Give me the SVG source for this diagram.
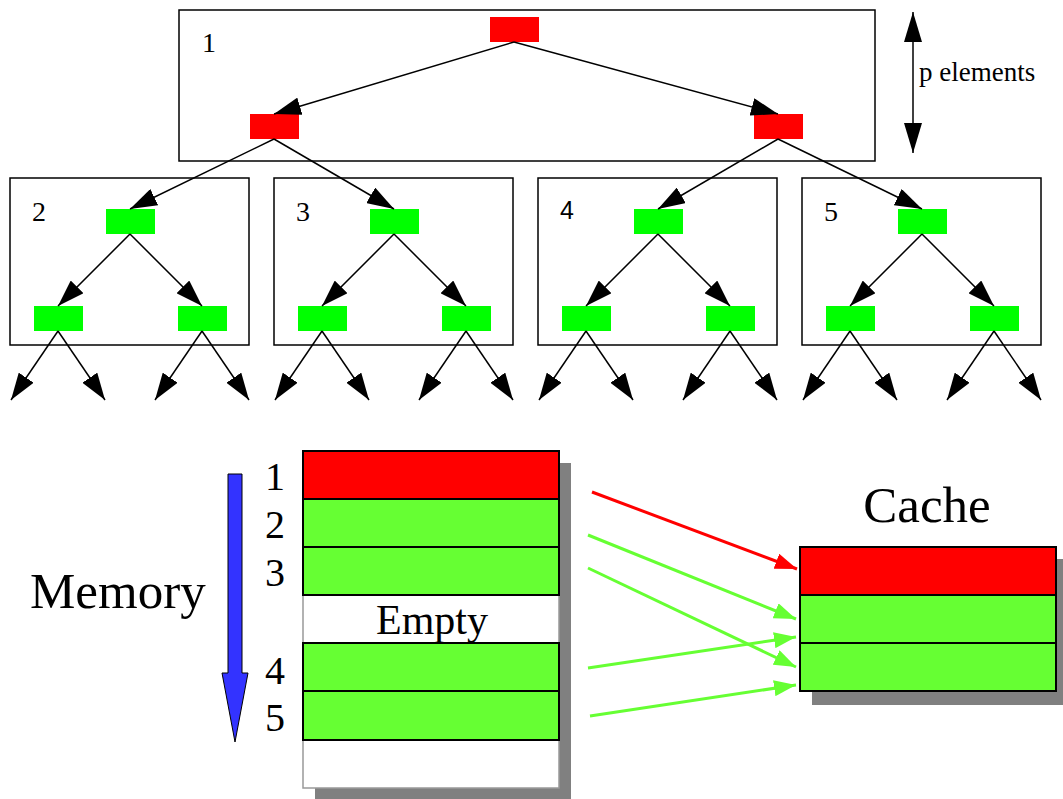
<svg xmlns="http://www.w3.org/2000/svg" width="1063" height="799" viewBox="0 0 1063 799">
<style>
.serif{font-family:"Liberation Serif","Times New Roman",serif;fill:#000}
.sans{font-family:"Liberation Sans",Arial,sans-serif;fill:#000}
.box{fill:none;stroke:#000;stroke-width:1.5}
.red{fill:#ff0000}
.grn{fill:#00ff00}
.edge{stroke:#000;stroke-width:1.5;fill:none;marker-end:url(#ah)}
.row-r{fill:#ff0000;stroke:#000;stroke-width:2}
.row-g{fill:#66ff33;stroke:#000;stroke-width:2}
.row-w{fill:#fff;stroke:#999;stroke-width:1.5}
.shadow{fill:#808080}
.ra{stroke:#ff0000;stroke-width:3;fill:none;marker-end:url(#ahr)}
.ga{stroke:#66ff33;stroke-width:3;fill:none;marker-end:url(#ahg)}
</style>
<defs>
<marker id="ah" markerUnits="userSpaceOnUse" markerWidth="27" markerHeight="18" viewBox="0 0 27 18" refX="27" refY="9" orient="auto"><path d="M0,0 L27,9 L0,18 z" fill="#000"/></marker>
<marker id="ahp" markerUnits="userSpaceOnUse" markerWidth="30" markerHeight="18" viewBox="0 0 30 18" refX="30" refY="9" orient="auto-start-reverse"><path d="M0,0 L30,9 L0,18 z" fill="#000"/></marker>
<marker id="ahr" markerUnits="userSpaceOnUse" markerWidth="22" markerHeight="16" viewBox="0 0 22 16" refX="22" refY="8" orient="auto"><path d="M0,0 L22,8 L0,16 z" fill="#ff0000"/></marker>
<marker id="ahg" markerUnits="userSpaceOnUse" markerWidth="22" markerHeight="16" viewBox="0 0 22 16" refX="22" refY="8" orient="auto"><path d="M0,0 L22,8 L0,16 z" fill="#66ff33"/></marker>
</defs>

<g id="block1">
<rect class="box" x="179" y="10" width="696" height="151"/>
<text class="serif" x="202" y="52" font-size="28">1</text>
</g>
<g id="node-root"><rect class="red" x="490" y="17" width="49" height="25"/></g>
<g id="node-l1"><rect class="red" x="250" y="114" width="49" height="25"/></g>
<g id="node-r1"><rect class="red" x="754" y="114" width="49" height="25"/></g>

<g id="block2">
<rect class="box" x="10" y="178" width="239" height="167"/>
<text class="serif" x="32" y="221" font-size="28">2</text>
<rect class="grn" x="106" y="209" width="49" height="25"/>
<rect class="grn" x="34" y="306" width="49" height="25"/>
<rect class="grn" x="178" y="306" width="49" height="25"/>
</g>
<g id="block3">
<rect class="box" x="274" y="178" width="239" height="167"/>
<text class="serif" x="296" y="221" font-size="28">3</text>
<rect class="grn" x="370" y="209" width="49" height="25"/>
<rect class="grn" x="298" y="306" width="49" height="25"/>
<rect class="grn" x="442" y="306" width="49" height="25"/>
</g>
<g id="block4">
<rect class="box" x="538" y="178" width="239" height="167"/>
<text class="sans" x="560" y="219" font-size="25">4</text>
<rect class="grn" x="634" y="209" width="49" height="25"/>
<rect class="grn" x="562" y="306" width="49" height="25"/>
<rect class="grn" x="706" y="306" width="49" height="25"/>
</g>
<g id="block5">
<rect class="box" x="802" y="178" width="239" height="167"/>
<text class="serif" x="824" y="221" font-size="28">5</text>
<rect class="grn" x="898" y="209" width="49" height="25"/>
<rect class="grn" x="826" y="306" width="49" height="25"/>
<rect class="grn" x="970" y="306" width="49" height="25"/>
</g>

<g id="p-elements">
<line x1="913" y1="12" x2="913" y2="153" stroke="#000" stroke-width="1.5" marker-start="url(#ahp)" marker-end="url(#ahp)"/>
<text class="serif" x="919" y="81" font-size="27">p elements</text>
</g>

<g id="tree-connectors">
<line class="edge" x1="514" y1="42" x2="274" y2="114"/>
<line class="edge" x1="514" y1="42" x2="778" y2="114"/>
<line class="edge" x1="274" y1="139" x2="130" y2="209"/>
<line class="edge" x1="274" y1="139" x2="394" y2="209"/>
<line class="edge" x1="778" y1="139" x2="658" y2="209"/>
<line class="edge" x1="778" y1="139" x2="922" y2="209"/>
<line class="edge" x1="130" y1="234" x2="58" y2="306"/>
<line class="edge" x1="130" y1="234" x2="202" y2="306"/>
<line class="edge" x1="58" y1="331" x2="11" y2="400"/>
<line class="edge" x1="58" y1="331" x2="105" y2="400"/>
<line class="edge" x1="202" y1="331" x2="155" y2="400"/>
<line class="edge" x1="202" y1="331" x2="249" y2="400"/>
<line class="edge" x1="394" y1="234" x2="322" y2="306"/>
<line class="edge" x1="394" y1="234" x2="466" y2="306"/>
<line class="edge" x1="322" y1="331" x2="275" y2="400"/>
<line class="edge" x1="322" y1="331" x2="369" y2="400"/>
<line class="edge" x1="466" y1="331" x2="419" y2="400"/>
<line class="edge" x1="466" y1="331" x2="513" y2="400"/>
<line class="edge" x1="658" y1="234" x2="586" y2="306"/>
<line class="edge" x1="658" y1="234" x2="730" y2="306"/>
<line class="edge" x1="586" y1="331" x2="539" y2="400"/>
<line class="edge" x1="586" y1="331" x2="633" y2="400"/>
<line class="edge" x1="730" y1="331" x2="683" y2="400"/>
<line class="edge" x1="730" y1="331" x2="777" y2="400"/>
<line class="edge" x1="922" y1="234" x2="850" y2="306"/>
<line class="edge" x1="922" y1="234" x2="994" y2="306"/>
<line class="edge" x1="850" y1="331" x2="803" y2="400"/>
<line class="edge" x1="850" y1="331" x2="897" y2="400"/>
<line class="edge" x1="994" y1="331" x2="947" y2="400"/>
<line class="edge" x1="994" y1="331" x2="1041" y2="400"/>
</g>

<g id="memory-label">
<text class="serif" x="30" y="608" font-size="51">Memory</text>
<polygon points="228,474 242,474 242,673 248,673 235,742 222,673 228,673" fill="#3333ff" stroke="#000" stroke-width="1"/>
</g>

<g id="memory">
<rect class="shadow" x="315" y="463" width="256" height="337"/>
<rect class="row-w" x="303" y="451" width="256" height="337"/>
<rect class="row-r" x="303" y="451" width="256" height="48"/>
<rect class="row-g" x="303" y="499" width="256" height="48"/>
<rect class="row-g" x="303" y="547" width="256" height="48"/>
<rect class="row-g" x="303" y="643" width="256" height="48"/>
<rect class="row-g" x="303" y="691" width="256" height="49"/>
<text class="serif" x="432" y="634" font-size="42" text-anchor="middle">Empty</text>
<text class="serif" x="275" y="490" font-size="40" text-anchor="middle">1</text>
<text class="serif" x="275" y="538" font-size="40" text-anchor="middle">2</text>
<text class="serif" x="275" y="586" font-size="40" text-anchor="middle">3</text>
<text class="serif" x="275" y="684" font-size="40" text-anchor="middle">4</text>
<text class="serif" x="275" y="731" font-size="40" text-anchor="middle">5</text>
</g>

<g id="cache">
<text class="serif" x="927" y="522" font-size="51" text-anchor="middle">Cache</text>
<rect class="shadow" x="812" y="559" width="256" height="146"/>
<rect class="row-r" x="800" y="547" width="256" height="48"/>
<rect class="row-g" x="800" y="595" width="256" height="48"/>
<rect class="row-g" x="800" y="643" width="256" height="48"/>
</g>

<g id="cache-connectors">
<line class="ra" x1="592" y1="492" x2="797" y2="569"/>
<line class="ga" x1="588" y1="535" x2="796" y2="619"/>
<line class="ga" x1="588" y1="568" x2="796" y2="667"/>
<line class="ga" x1="588" y1="668" x2="796" y2="637"/>
<line class="ga" x1="590" y1="716" x2="796" y2="685"/>
</g>
</svg>
